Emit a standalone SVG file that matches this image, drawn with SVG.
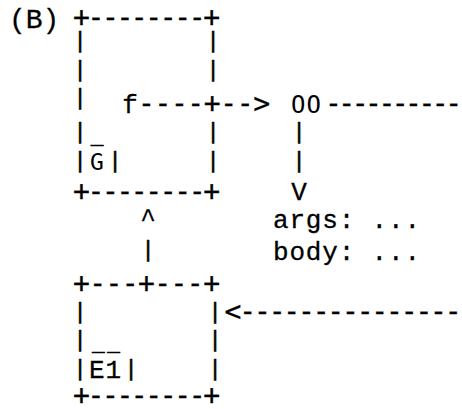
<svg xmlns="http://www.w3.org/2000/svg" width="462" height="409" viewBox="0 0 462 409">
<style>
  .b { font-family: "DejaVu Sans Mono", monospace; font-size: 21px; fill: #000; stroke: #000; stroke-width: 0.6px; }
  .h { font-family: "DejaVu Sans Mono", monospace; font-size: 28px; fill: #000; stroke: #000; stroke-width: 0.3px; }
  .s { font-family: "DejaVu Sans Mono", monospace; font-size: 23px; fill: #000; }
  .t { font-family: "Liberation Mono", monospace; font-size: 26px; fill: #000; stroke: #000; stroke-width: 0.3px; }
  .m { text-anchor: middle; }
</style>
<rect width="462" height="409" fill="#fff"/>
<g id="label">
  <text class="t" x="9" y="28" style="font-size:28px">(B)</text>
</g>
<g id="node-G">
  <text class="h" x="73" y="27" textLength="147" lengthAdjust="spacing">+--------+</text>
  <text class="b m" x="80" y="46.5">|</text><text class="b m" x="213" y="46.5">|</text>
  <text class="b m" x="80" y="75.5">|</text><text class="b m" x="213" y="75.5">|</text>
  <text class="b m" x="80" y="103.5">|</text>
  <text class="b m" x="80" y="137.5">|</text><text class="b m" x="97" y="140.5">_</text><text class="b m" x="213" y="137.5">|</text>
  <text class="b m" x="80" y="166.5">|</text>
  <text class="s m" x="97" y="170">G</text>
  <text class="b m" x="115" y="166.5">|</text><text class="b m" x="213" y="166.5">|</text>
  <text class="h" x="73" y="201" textLength="147" lengthAdjust="spacing">+--------+</text>
</g>
<g id="node-closure">
  <text class="s" x="291" y="113" textLength="30" lengthAdjust="spacing" style="font-size:24px">OO</text>
  <text class="t" x="273" y="228" textLength="147" lengthAdjust="spacing">args: ...</text>
  <text class="t" x="273" y="260" textLength="147" lengthAdjust="spacing">body: ...</text>
</g>
<g id="node-E1">
  <text class="h" x="73" y="293" textLength="147" lengthAdjust="spacing">+---+---+</text>
  <text class="b m" x="80" y="317.5">|</text><text class="b m" x="215" y="317.5">|</text>
  <text class="b m" x="80" y="345.5">|</text><text class="b" x="92" y="347.5" textLength="28" lengthAdjust="spacing">__</text><text class="b m" x="215" y="345.5">|</text>
  <text class="b m" x="80" y="374.5">|</text>
  <text class="t" x="89" y="378" textLength="32" lengthAdjust="spacing">E1</text>
  <text class="b m" x="131" y="374.5">|</text><text class="b m" x="215" y="374.5">|</text>
  <text class="h" x="73" y="405" textLength="147" lengthAdjust="spacing">+--------+</text>
</g>
<g id="connectors">
  <text class="t m" x="130" y="113">f</text>
  <text class="h" x="138" y="113" textLength="132" lengthAdjust="spacing">----+--&gt;</text>
  <text class="h" x="325" y="113" textLength="137" lengthAdjust="spacing">----------</text>
  <text class="b m" x="299" y="137.5">|</text>
  <text class="b m" x="299" y="166.5">|</text>
  <text class="t m" x="299" y="200">V</text>
  <text class="t m" x="148" y="227">^</text>
  <text class="b m" x="148" y="255.5">|</text>
  <text class="h" x="224.6" y="321" textLength="237" lengthAdjust="spacing">&lt;---------------</text>
</g>
</svg>
